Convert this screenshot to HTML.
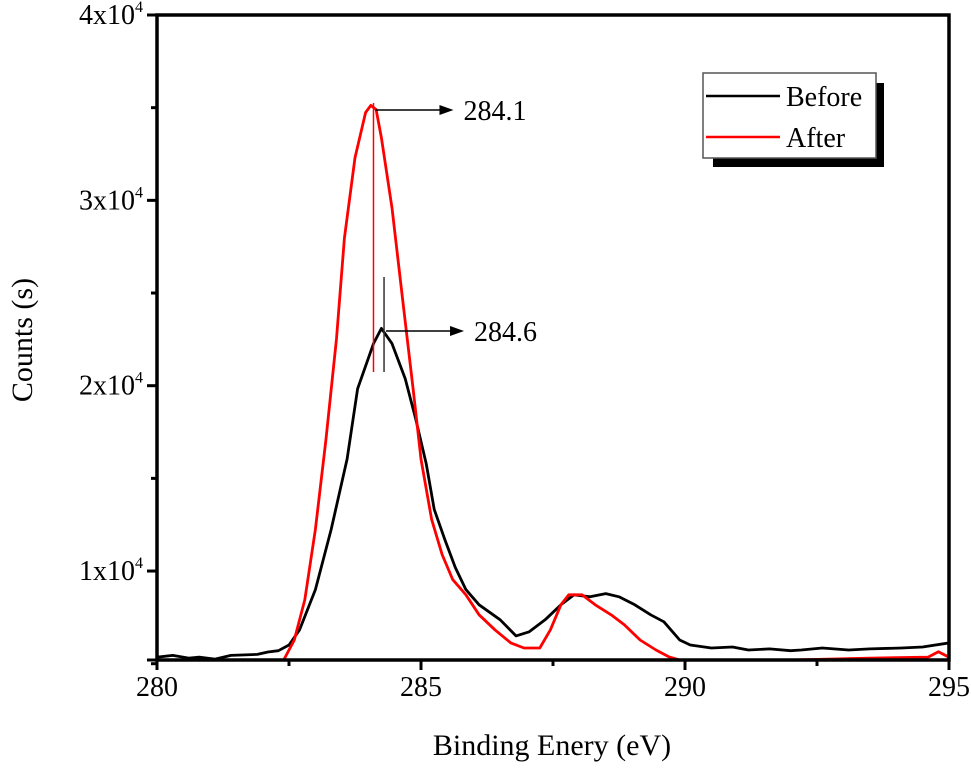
<!DOCTYPE html>
<html><head><meta charset="utf-8"><style>
html,body{margin:0;padding:0;background:#fff;}
svg{display:block;font-family:"Liberation Serif",serif;}
</style></head><body>
<svg id="chart" width="971" height="775" viewBox="0 0 971 775" xmlns="http://www.w3.org/2000/svg">
<defs><clipPath id="clip"><rect x="157" y="15" width="792" height="645"/></clipPath></defs>
<g id="plot" clip-path="url(#clip)"></g>
<g id="axes"></g>
<g id="annot"></g>
<g id="legend">
<rect x="713" y="83" width="171" height="84" fill="#000"/>
<rect x="703" y="73" width="173" height="85" fill="#fff" stroke="#555" stroke-width="1.5"/>
<line x1="706" y1="96" x2="780" y2="96" stroke="#000" stroke-width="2.5"/>
<text x="786" y="106" font-size="28">Before</text>
<line x1="706" y1="137" x2="780" y2="137" stroke="#f00" stroke-width="2.5"/>
<text x="786" y="147" font-size="28">After</text>
</g>
<text x="552" y="755" font-size="30" text-anchor="middle">Binding Enery (eV)</text>
<text transform="translate(32,340) rotate(-90)" font-size="30" text-anchor="middle">Counts (s)</text>
</svg>
<script>
const beforeX=[280.0,280.3,280.6,280.8,281.1,281.4,281.6,281.9,282.1,282.3,282.5,282.7,283.0,283.3,283.6,283.8,284.1,284.25,284.45,284.7,284.9,285.1,285.25,285.45,285.65,285.85,286.1,286.5,286.8,287.05,287.35,287.65,287.9,288.2,288.5,288.75,289.05,289.35,289.6,289.9,290.1,290.5,290.9,291.2,291.6,292.0,292.2,292.6,293.1,293.5,294.1,294.5,295.0];
const beforeY=[5350,5450,5300,5350,5250,5450,5470,5500,5630,5700,6010,6830,9000,12250,16040,19830,22270,23090,22270,20380,18210,15770,13330,11700,10190,9000,8180,7370,6500,6720,7370,8180,8720,8610,8780,8610,8180,7640,7260,6280,6010,5850,5900,5740,5800,5700,5740,5850,5740,5800,5850,5900,6120];
const afterX=[280.0,282.3,282.4,282.6,282.8,283.0,283.2,283.4,283.55,283.75,283.95,284.05,284.15,284.25,284.45,284.65,284.85,285.0,285.2,285.4,285.6,285.85,286.1,286.4,286.7,286.95,287.25,287.45,287.65,287.8,288.05,288.15,288.3,288.6,288.85,289.15,289.45,289.7,289.9,292.0,293.5,294.6,294.8,295.0];
const afterY=[5000,5000,5200,6280,8450,12250,17120,22540,27960,32300,34740,35120,34900,33380,29590,24710,19830,16040,12790,10890,9540,8720,7640,6830,6120,5850,5850,6830,8180,8720,8720,8500,8180,7640,7100,6280,5740,5360,5200,5200,5300,5350,5650,5350];
const xTicks=[280,285,290,295];
const yTicks=[10000,20000,30000,40000];
const yTickMant=["1","2","3","4"];
const X0=280,X1=295,Y0=5200,Y1=40000;
const L=157,R=949,T=15,B=660;
const NS="http://www.w3.org/2000/svg";
function sx(v){return L+(v-X0)/(X1-X0)*(R-L);}
function sy(v){return B-(v-Y0)/(Y1-Y0)*(B-T);}
function mk(tag,attrs,parent){const e=document.createElementNS(NS,tag);for(const k in attrs)e.setAttribute(k,attrs[k]);parent.appendChild(e);return e;}
const plot=document.getElementById('plot'),axes=document.getElementById('axes'),annot=document.getElementById('annot');
function series(xs,ys,color,name){
  const d=xs.map((x,i)=>(i?'L':'M')+sx(x).toFixed(1)+','+sy(ys[i]).toFixed(1)).join('');
  const p=mk('path',{d:d,fill:'none',stroke:color,'stroke-width':2.8,'stroke-linejoin':'round'},plot);
  
  
}
series(beforeX,beforeY,'#000','before-line');
series(afterX,afterY,'#f00','after-line');
const fr=mk('rect',{x:L,y:T,width:R-L,height:B-T,fill:'none',stroke:'#000','stroke-width':3.5},axes);


xTicks.forEach((v,i)=>{
  const x=sx(v);
  mk('line',{x1:x,y1:B,x2:x,y2:B+10,stroke:'#000','stroke-width':3},axes);
  if(i<xTicks.length-1){const m=sx(v+2.5);mk('line',{x1:m,y1:B,x2:m,y2:B+6,stroke:'#000','stroke-width':3},axes);}
  const t=mk('text',{x:x,y:B+36,'font-size':28,'text-anchor':'middle'},axes);
  t.textContent=String(v);
  
  
});
yTicks.forEach((v,i)=>{
  const y=sy(v);
  mk('line',{x1:L-10,y1:y,x2:L,y2:y,stroke:'#000','stroke-width':3},axes);
  const m=sy(v-5000);mk('line',{x1:L-6,y1:m,x2:L,y2:m,stroke:'#000','stroke-width':3},axes);
  const t=mk('text',{x:L-14,y:y+9,'font-size':28,'text-anchor':'end'},axes);
  
  
  const a=mk('tspan',{},t);a.textContent=yTickMant[i]+'x10';
  const b=mk('tspan',{'font-size':16,dy:-12},t);b.textContent='4';
});
mk('line',{x1:L-10,y1:B,x2:L,y2:B,stroke:'#000','stroke-width':3},axes);
function ann(xv,yTop,yBot,yArrow,color,label,name){
  const x=sx(xv);
  const v=mk('line',{x1:x,y1:yTop,x2:x,y2:yBot,stroke:color,'stroke-width':1.5},annot);
  
  
  mk('line',{x1:x+2,y1:yArrow,x2:x+68,y2:yArrow,stroke:'#000','stroke-width':1.5},annot);
  mk('path',{d:`M${x+80},${yArrow}L${x+66},${yArrow-5}L${x+66},${yArrow+5}Z`,fill:'#000'},annot);
  const t=mk('text',{x:x+90,y:yArrow+10,'font-size':28},annot);
  t.textContent=label;
  
  
}
ann(284.1,103,372,110,'#f00','284.1','after-peak');
ann(284.3,277,372,331,'#333','284.6','before-peak');
</script>
</body></html>
